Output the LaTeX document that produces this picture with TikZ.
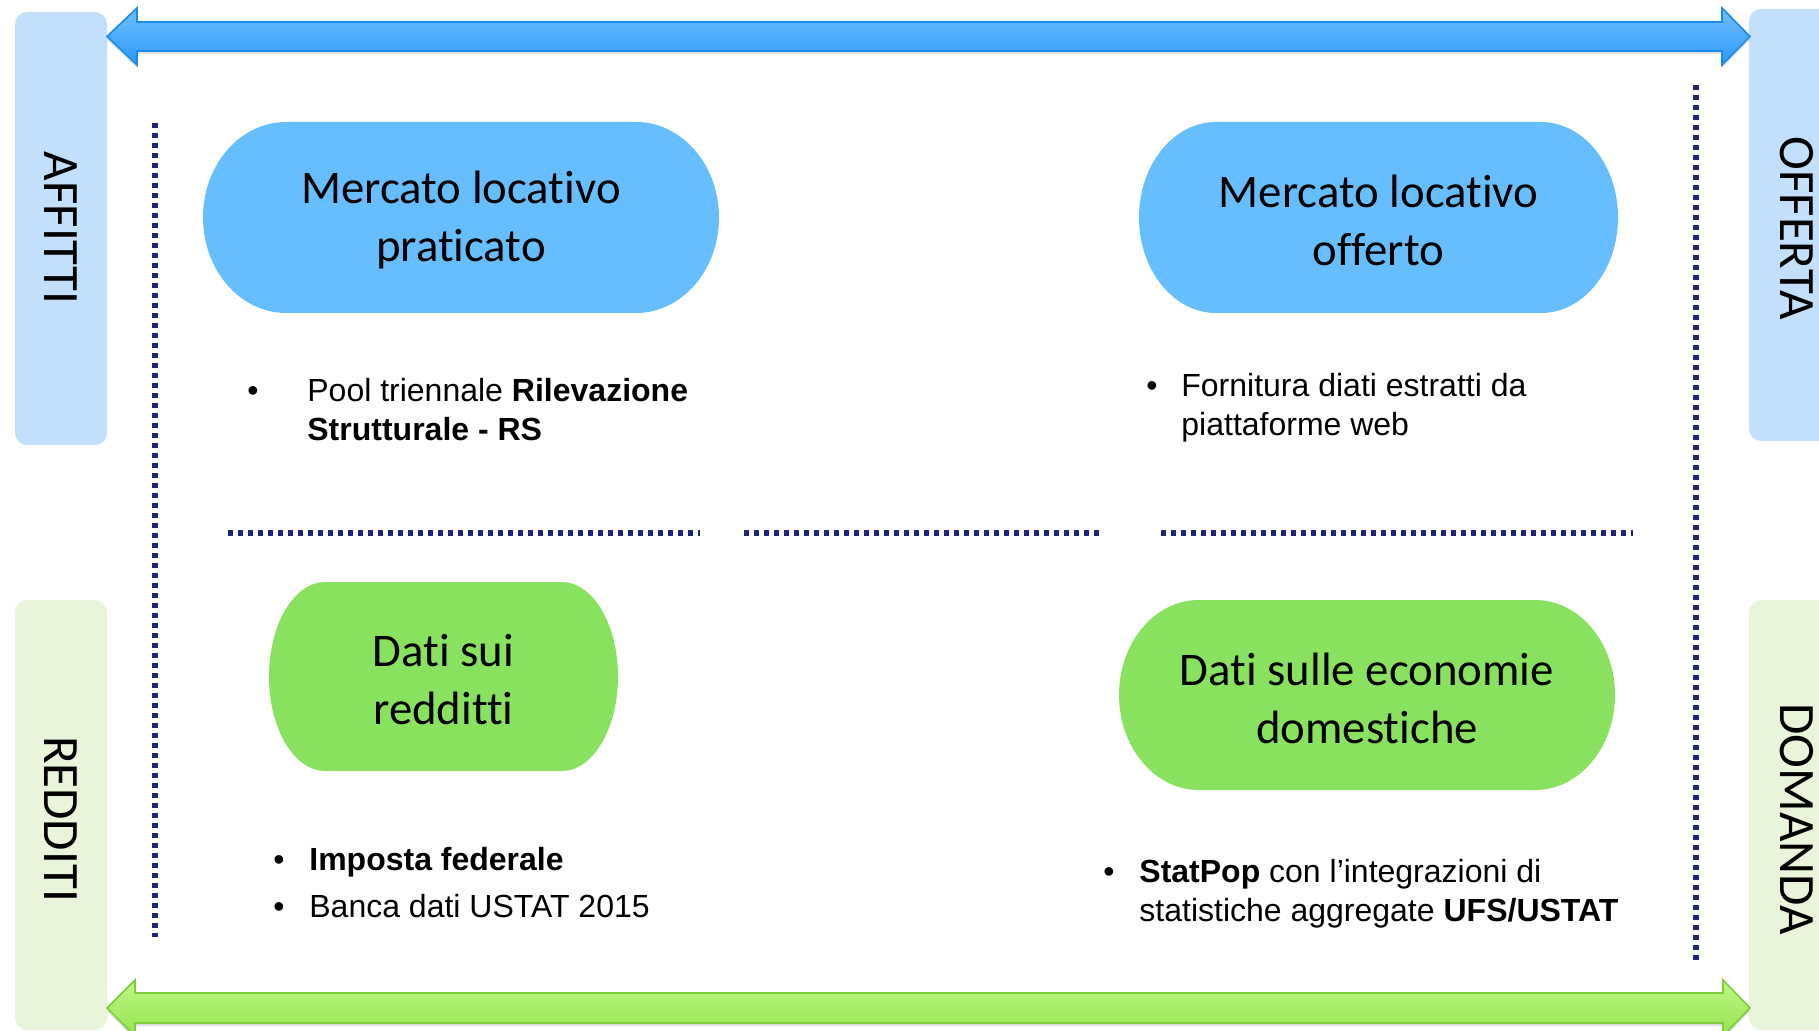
\documentclass[tikz,border=0pt]{standalone}
\usepackage{fontspec}
\setmainfont{Liberation Sans}
\newfontfamily\calibri[Ligatures=NoCommon]{Carlito}
\usetikzlibrary{shadows}
\definecolor{bubblue}{RGB}{102,190,255}
\definecolor{bubgreen}{RGB}{136,226,96}
\definecolor{barblue}{RGB}{194,224,252}
\definecolor{bargreen}{RGB}{232,245,218}
\definecolor{dotnavy}{RGB}{30,38,124}
\tikzset{
  dotline/.style={dotnavy, line width=2.6pt, dash pattern=on 2.4pt off 2.6pt},
  sidebar/.style={rounded corners=6pt},
  sidelabel/.style={font=\calibri\fontsize{25.5}{30}\selectfont, rotate=-90, inner sep=0pt},
  bubtext/.style={font=\calibri\fontsize{23.4}{29}\selectfont, align=center, inner sep=0pt},
  bullets/.style={font=\fontsize{16}{19.5}\selectfont, inner sep=0pt, anchor=base west},
  bluearrow/.style={top color={rgb,255:red,112;green,192;blue,255}, bottom color={rgb,255:red,44;green,152;blue,245},
    draw={rgb,255:red,24;green,140;blue,236}, line width=0.8pt,
    drop shadow={shadow xshift=0pt, shadow yshift=-1.5pt, opacity=.25}},
  greenarrow/.style={top color={rgb,255:red,192;green,246;blue,132}, bottom color={rgb,255:red,148;green,230;blue,80},
    draw={rgb,255:red,124;green,204;blue,60}, line width=0.8pt,
    drop shadow={shadow xshift=0pt, shadow yshift=-1.5pt, opacity=.25}}
}
% name / x0 / y0 / x1 / y1 / colour / text
\newcommand\bubble[7]{%
  \pgfmathsetmacro\rx{0.161*(#4-#2)}%
  \pgfmathsetmacro\ry{(#5-#3)/2}%
  \fill[#6] ({#2+\rx},#3) -- ({#4-\rx},#3) arc[start angle=-90, end angle=90, x radius=\rx, y radius=\ry]
    -- ({#2+\rx},#5) arc[start angle=90, end angle=270, x radius=\rx, y radius=\ry] -- cycle;
  \node[bubtext] (#1) at ({(#2+#4)/2},{#3+\ry+3}) {#7};}

\begin{document}
\begin{tikzpicture}[x=0.5pt, y=-0.5pt]
\useasboundingbox (0,0) rectangle (1819,1031);
\fill[white] (0,0) rectangle (1819,1031);
\clip (0,0) rectangle (1819,1031);

% side bars
\fill[barblue, sidebar] (15,12) rectangle (107,445);
\fill[bargreen, sidebar] (15,600) rectangle (107,1030);
\fill[barblue, sidebar] (1749,9) rectangle (1860,441);
\fill[bargreen, sidebar] (1749,600) rectangle (1860,1030);
\node[sidelabel] (affitti) at (61,228) {AFFITTI};
\node[sidelabel] (redditi) at (61,819) {REDDITI};
\node[sidelabel] (offerta) at (1797,228) {OFFERTA};
\node[sidelabel] (domanda) at (1797,819) {DOMANDA};

% arrows
\filldraw[bluearrow] (107,36.5) -- (137,8) -- (137,22) -- (1722,22) -- (1722,8) -- (1750,36.5)
  -- (1722,65) -- (1722,51) -- (137,51) -- (137,65) -- cycle;
\filldraw[greenarrow] (107,1008) -- (135,980) -- (135,993) -- (1723,993) -- (1723,980) -- (1750,1008)
  -- (1723,1036) -- (1723,1023) -- (135,1023) -- (135,1036) -- cycle;

% dotted frame
\draw[dotline] (155,123) -- (155,937);
\draw[dotline] (1696,85) -- (1696,963);
\foreach \a/\b in {228/700, 744/1100, 1161/1633}
  \draw[dotline] (\a,533) -- (\b,533);

% bubbles
\bubble{prat}{203}{122}{719}{313}{bubblue}{Mercato locativo\\praticato}
\bubble{off}{1139}{122}{1618}{313}{bubblue}{Mercato locativo\\offerto}
\bubble{red}{269}{582}{618}{771}{bubgreen}{Dati sui\\redditti}
\bubble{eco}{1119}{600}{1615}{790}{bubgreen}{Dati sulle economie\\domestiche}

% sources
\node[bullets] (rs) at (247,402) {\begin{tabular}[t]{@{}p{30pt}@{}l@{}}
  \textbullet & Pool triennale \textbf{Rilevazione}\\ & \textbf{Strutturale - RS}\end{tabular}};
\node[bullets] (web) at (1146,397) {\begin{tabular}[t]{@{}p{17.5pt}@{}l@{}}
  \textbullet & Fornitura diati estratti da\\ & piattaforme web\end{tabular}};
\node[bullets] (fed) at (273,870) {\begin{tabular}[t]{@{}p{18pt}@{}l@{}}
  \textbullet & \textbf{Imposta federale}\\[4pt] \textbullet & Banca dati USTAT 2015\end{tabular}};
\node[bullets] (pop) at (1103,882) {\begin{tabular}[t]{@{}p{18pt}@{}l@{}}
  \textbullet & \textbf{StatPop} con l’integrazioni di\\ & statistiche aggregate \textbf{UFS/USTAT}\end{tabular}};
\end{tikzpicture}
\end{document}
